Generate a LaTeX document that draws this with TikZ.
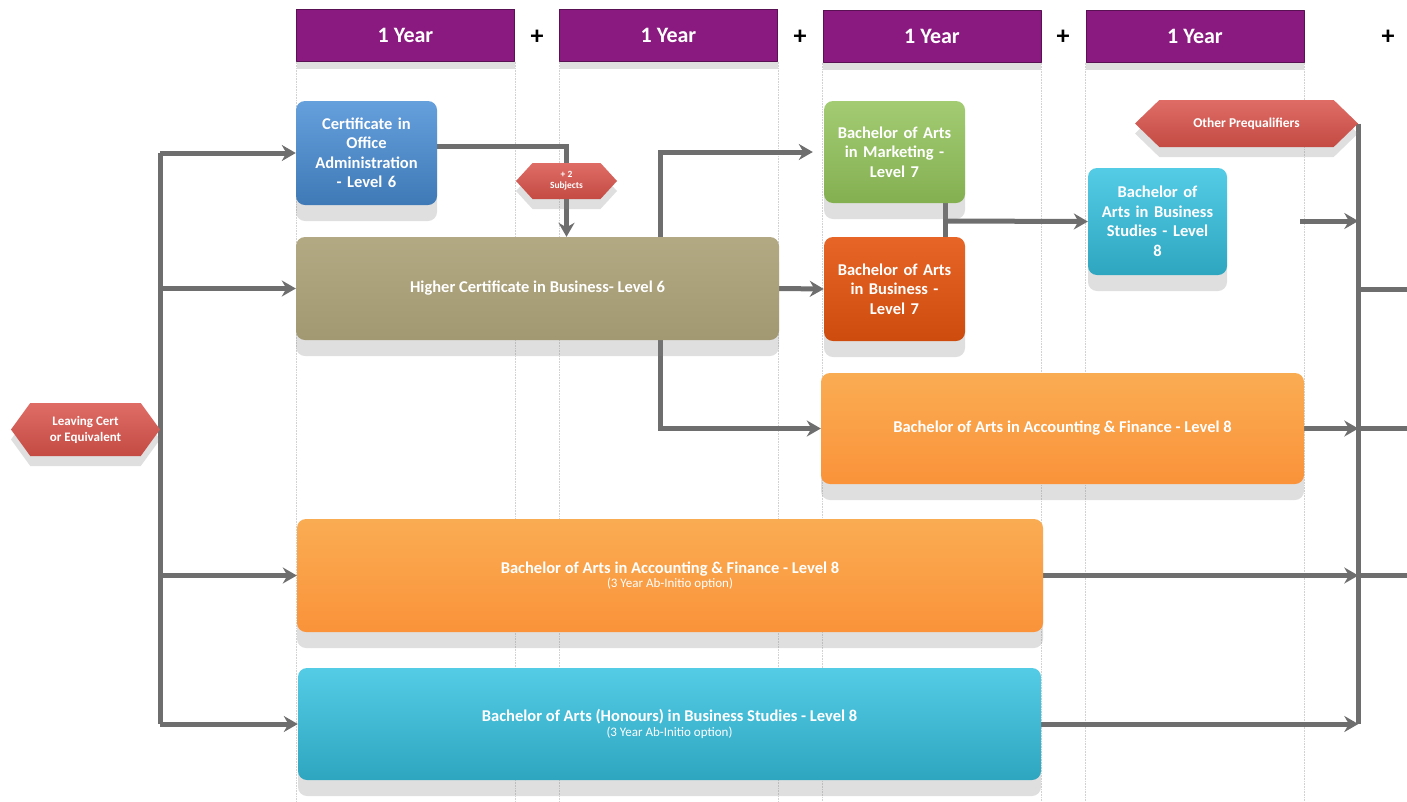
\documentclass[tikz,border=0pt]{standalone}
\usepackage{fontspec}
\setmainfont{Carlito}
\usetikzlibrary{arrows.meta,shapes.symbols,shadows,backgrounds}
\definecolor{yearpurple}{HTML}{8A1A7F}
\definecolor{hexred}{HTML}{D9534B}
\definecolor{certblue}{HTML}{4A8ED6}
\definecolor{khaki}{HTML}{ACA279}
\definecolor{mktgreen}{HTML}{93C35A}
\definecolor{busorange}{HTML}{E4540F}
\definecolor{studcyan}{HTML}{37C3E2}
\definecolor{accorange}{HTML}{FAA340}
\definecolor{pipegray}{HTML}{6E6E6E}
\begin{document}
\begin{tikzpicture}[x=1pt, y=-1pt, line join=round, line cap=round,
	>={Stealth[length=14pt,width=16pt]},
	box/.style={rounded corners=9pt, text=white, align=center, inner sep=2pt,
		font=\fontsize{16.5}{19.5}\selectfont\bfseries,
		drop shadow={shadow xshift=0pt, shadow yshift=-16pt, opacity=.25}},
	hexa/.style={signal, signal to=west and east, text=white, align=center, inner sep=1pt,
		top color=hexred!85!white, bottom color=hexred!90!black,
		drop shadow={shadow xshift=0pt, shadow yshift=-10pt, opacity=.25}},
	year/.style={minimum width=218pt, minimum height=52pt, text=white,
		font=\fontsize{22}{24}\selectfont\bfseries,
		fill=yearpurple, draw=yearpurple!65!black, line width=1pt,
		drop shadow={shadow xshift=0pt, shadow yshift=-8pt, opacity=.25}},
	pipe/.style={draw=pipegray, line width=5pt, line cap=butt},
	grid/.style={gray!35, densely dotted, line width=.6pt}]
	\useasboundingbox (0,0) rectangle (1407,801);
	
	% year headers
	\foreach \n/\x/\y/\p in {1/405.5/35/537,2/668.5/35/800,3/932/36/1063,4/1195/36/1388}{
		\node[year] (yr\n) at (\x,\y) {1 Year};
		\node[font=\fontsize{26}{26}\selectfont\bfseries] (plus\n) at (\p,37) {+};
	}
	\begin{scope}[on background layer]
		\foreach \n in {1,...,4}{
			\draw[grid] (yr\n.south west) -- (yr\n.south west |- 0,801);
			\draw[grid] (yr\n.south east) -- (yr\n.south east |- 0,801);
		}
	\end{scope}
	
	% programmes
	\node[hexa, minimum width=149pt, minimum height=53pt, signal pointer angle=108,
		font=\fontsize{13}{16}\selectfont\bfseries] (lc) at (85.5,429.5) {Leaving Cert\\or Equivalent};
	\node[box, minimum width=141pt, minimum height=104pt, text width=134pt,
		top color=certblue!85!white, bottom color=certblue!85!black] (cert) at (366.5,153)
		{Certificate in\\Office\\Administration\\- Level 6};
	\node[hexa, minimum width=101pt, minimum height=36pt, signal pointer angle=95,
		font=\fontsize{9.5}{11}\selectfont\bfseries] (sub) at (566.5,181) {+ 2\\Subjects};
	\node[box, minimum width=483pt, minimum height=103pt,
		top color=khaki!92!white, bottom color=khaki!94!black] (hc) at (537.5,288.5)
		{Higher Certificate in Business- Level 6};
	\node[box, minimum width=141pt, minimum height=102pt, text width=134pt,
		top color=mktgreen!85!white, bottom color=mktgreen!90!black] (mkt) at (894.5,152)
		{Bachelor of Arts\\in Marketing -\\Level 7};
	\node[box, minimum width=141pt, minimum height=104pt, text width=134pt,
		top color=busorange!90!white, bottom color=busorange!90!black] (bab) at (894.5,289)
		{Bachelor of Arts\\in Business -\\Level 7};
	\node[box, minimum width=139pt, minimum height=107pt, text width=134pt,
		top color=studcyan!85!white, bottom color=studcyan!85!black] (bbs) at (1157.5,221.5)
		{Bachelor of\\Arts in Business\\Studies - Level\\8};
	\node[hexa, minimum width=223pt, minimum height=47pt, signal pointer angle=88,
		font=\fontsize{13.5}{16}\selectfont\bfseries] (op) at (1246.5,123.5) {Other Prequalifiers};
	\node[box, minimum width=483pt, minimum height=111pt,
		top color=accorange!90!white, bottom color=accorange!90!red] (af8) at (1062.5,428.5)
		{Bachelor of Arts in Accounting \& Finance - Level 8};
	\node[box, minimum width=746pt, minimum height=113pt,
		top color=accorange!90!white, bottom color=accorange!90!red] (af3) at (670,575.5)
		{Bachelor of Arts in Accounting \& Finance - Level 8\\[-5pt]
		{\fontsize{13}{15}\selectfont\mdseries (3 Year Ab-Initio option)}};
	\node[box, minimum width=743pt, minimum height=112pt,
		top color=studcyan!85!white, bottom color=studcyan!85!black] (hons) at (669.5,724)
		{Bachelor of Arts (Honours) in Business Studies - Level 8\\[-5pt]
		{\fontsize{13}{15}\selectfont\mdseries (3 Year Ab-Initio option)}};
	
	\path (660,288) coordinate (fork)
		(945,221) coordinate (join)
		(1300,221) coordinate (stub)
		(1407,0) coordinate (edge);
	
	% connectors
	\begin{scope}[on background layer]
		\draw[pipe] (lc.east |- cert.west) -- (lc.east |- hons.west);
		\foreach \b in {cert,hc,af3,hons}
		\draw[pipe,->] (lc.east |- \b.west) -- (\b.west);
		\draw[pipe,->] ([yshift=7pt]cert.east) -| (sub.center |- hc.north);
		\draw[pipe,->] (fork |- hc.north) |- ([xshift=-11pt]mkt.west);
		\draw[pipe,->] (fork |- hc.south) |- (af8.west);
		\draw[pipe,->] (hc.east) -- (bab.west);
		\draw[pipe] (join |- mkt.south) -- (join |- bab.north);
		\draw[pipe,->] (join) -- (bbs.west);
		\draw[pipe] (op.east) -- (op.east |- hons.east);
		\draw[pipe,->] (stub) -- (op.east |- stub);
		\foreach \b in {af8,af3,hons}
		\draw[pipe,->] (\b.east) -- (op.east |- \b.east);
		\foreach \b in {bab,af8,af3}
		\draw[pipe] (op.east |- \b.east) -- (edge |- \b.east);
	\end{scope}
\end{tikzpicture}
\end{document}
